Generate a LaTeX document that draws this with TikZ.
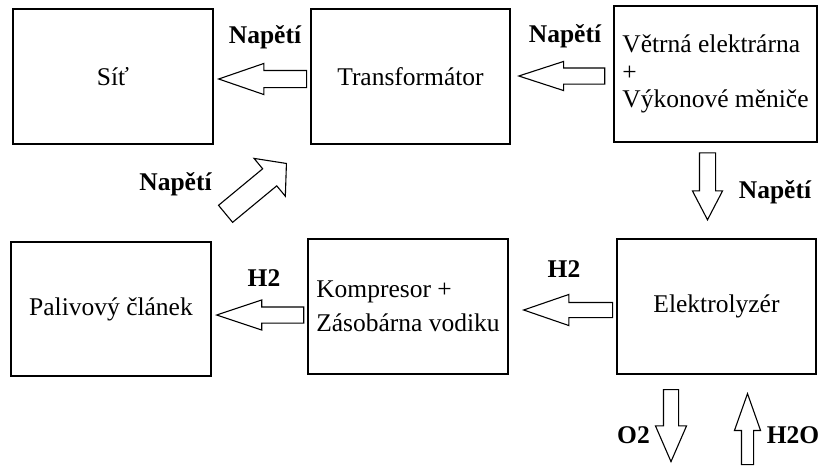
\documentclass[tikz,border=0pt]{standalone}
\usepackage{fontspec}
\setmainfont{Liberation Serif}
\usetikzlibrary{shapes.arrows}

\newcommand{\velke}{\fontsize{25.5}{29}\selectfont}

\tikzset{
  blok/.style={draw, line width=1.5pt, minimum width=200pt, minimum height=135pt,
    inner sep=0pt, font=\velke},
  sipka/.style={single arrow, draw, fill=white, line width=1.1pt, inner sep=0pt, anchor=tip},
  popis/.style={font=\velke\bfseries, anchor=base},
}

\begin{document}
\begin{tikzpicture}[x=1pt, y=-1pt]
  \useasboundingbox[fill=white] (0,0) rectangle (820,466);

  % bloky
  \node[blok] (sit) at (113,76.5) {Síť};
  \node[blok, minimum width=199pt] (trafo) at (410.5,76.5) {Transformátor};
  \node[blok, minimum width=203pt, minimum height=136pt, align=left,
    font=\fontsize{25.5}{27.5}\selectfont] (vetrna) at (715.5,74)
    {Větrná elektrárna\\+\\Výkonové měniče};
  \node[blok, minimum height=134pt] (palivo) at (111,309) {Palivový článek};
  \node[blok, align=left, font=\fontsize{25.5}{34}\selectfont] (kompresor) at (408,306.5)
    {Kompresor +\\Zásobárna vodiku};
  \node[blok, minimum width=199pt] (elektro) at (716.5,306.5) {Elektrolyzér};

  % sipky
  \node[sipka, rotate=180, minimum height=88pt, inner ysep=8pt,
    single arrow head extend=7pt, single arrow tip angle=38] (sTrafoSit) at (217,79) {};
  \node[sipka, rotate=180, minimum height=86pt, inner ysep=7.5pt,
    single arrow head extend=6.5pt, single arrow tip angle=36] (sVetrnaTrafo) at (517,76) {};
  \node[sipka, rotate=-90, minimum height=67pt, inner ysep=7.5pt,
    single arrow head extend=7pt, single arrow tip angle=55] (sVetrnaElektro) at (707.5,221) {};
  \node[sipka, rotate=39.6, minimum height=79pt, inner ysep=10.5pt,
    single arrow head extend=13.5pt, single arrow tip angle=97] (sPalivoTrafo) at (287,163) {};
  \node[sipka, rotate=180, minimum height=87pt, inner ysep=7.5pt,
    single arrow head extend=7pt, single arrow tip angle=37] (sKompresorPalivo) at (215,315) {};
  \node[sipka, rotate=180, minimum height=89pt, inner ysep=7pt,
    single arrow head extend=8pt, single arrow tip angle=38] (sElektroKompresor) at (522,310) {};
  \node[sipka, rotate=-90, minimum height=72pt, inner ysep=7pt,
    single arrow head extend=8pt, single arrow tip angle=47] (sKyslik) at (671,463) {};
  \node[sipka, rotate=90, minimum height=71pt, inner ysep=5.5pt,
    single arrow head extend=7pt, single arrow tip angle=39] (sVoda) at (747.5,392) {};

  % popisky
  \node[popis] (nap1) at (265,43) {Napětí};
  \node[popis] (nap2) at (565,42) {Napětí};
  \node[popis] (nap3) at (775,198) {Napětí};
  \node[popis] (nap4) at (175.5,190) {Napětí};
  \node[popis] (vodik1) at (264,286) {H2};
  \node[popis] (vodik2) at (564,277) {H2};
  \node[popis] (kyslik) at (633.5,443) {O2};
  \node[popis] (voda) at (793,443) {H2O};
\end{tikzpicture}
\end{document}
